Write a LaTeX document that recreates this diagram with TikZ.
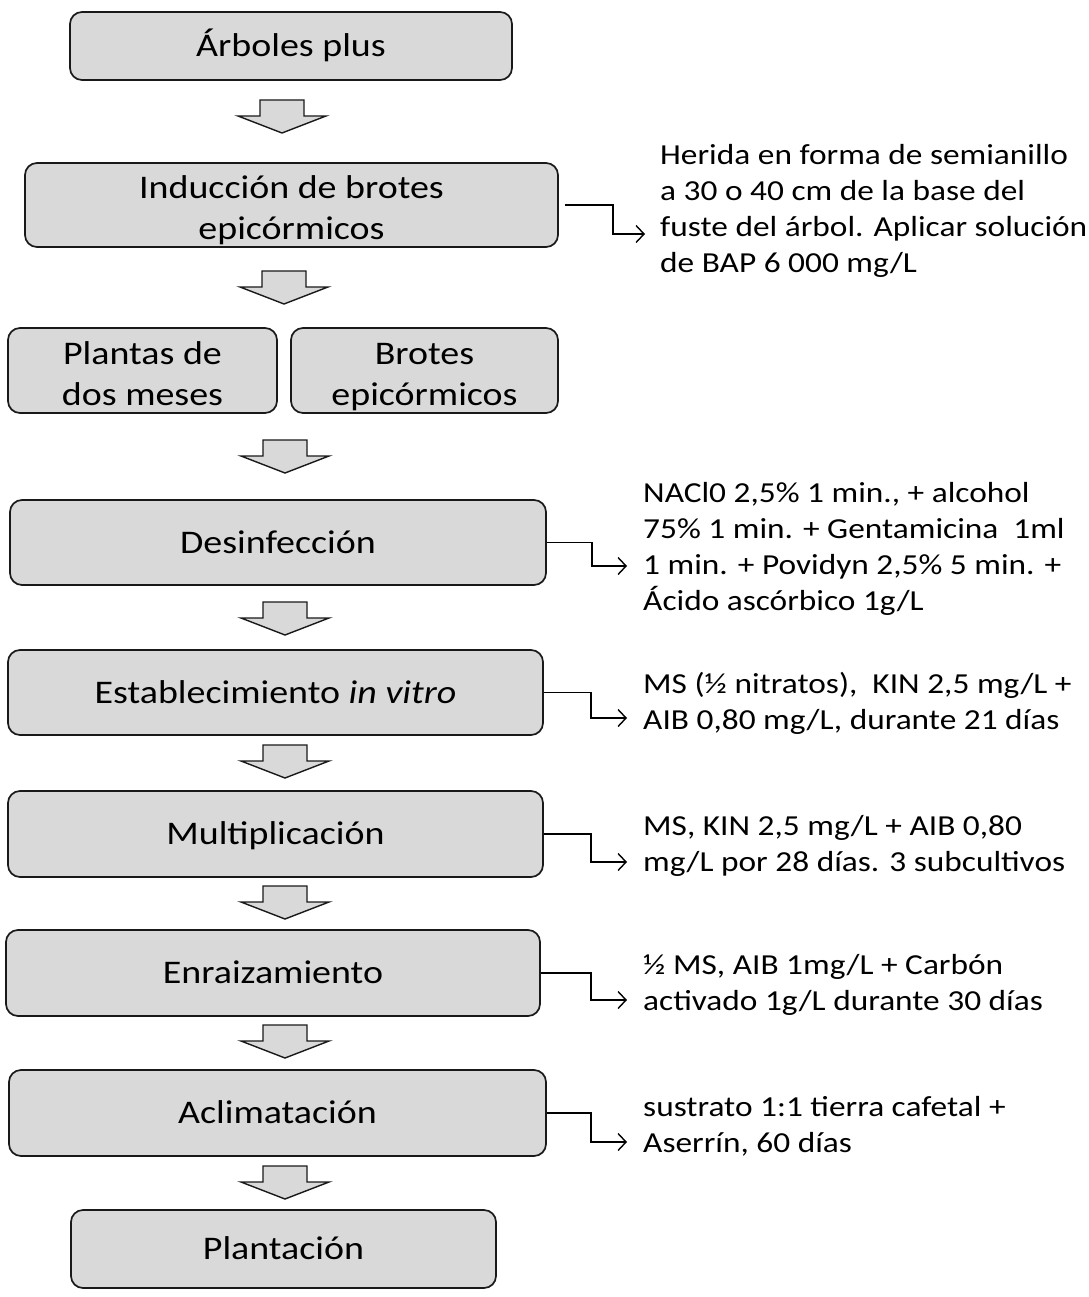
\documentclass[tikz,border=0pt]{standalone}
\usepackage{fontspec}
\setmainfont{Carlito}[FakeStretch=1.15]
\usetikzlibrary{arrows.meta}
\definecolor{boxgray}{RGB}{217,217,217}
\newcommand\etapastrut{\rule[-6pt]{0pt}{33pt}}
\newcommand\altostrut{\rule{0pt}{35pt}}

\begin{document}
\begin{tikzpicture}[x=1pt,y=-1pt,
  stage/.style={draw=black!90, line width=1.7pt, fill=boxgray, rounded corners=12pt,
    align=center, inner sep=0pt, font=\fontsize{33}{41}\selectfont,
    execute at begin node=\etapastrut, execute at end node=\etapastrut},
  note/.style={anchor=west, align=left, inner sep=0pt, font=\fontsize{29}{36}\selectfont},
  elbow/.style={draw=black, line width=1.4pt, -{Straight Barb[length=8pt,width=17pt]}},
  blockarrow/.style={draw=black!90, line width=1.4pt, fill=boxgray, line join=miter},
  flecha/.pic={\draw[blockarrow] (-22,0) -- (22,0) -- (22,16) -- (44,16) -- (0,33)
    -- (-44,16) -- (-22,16) -- cycle;}]
\useasboundingbox (0,0) rectangle (1088,1297);
% etapas
\node[stage, minimum width=442pt, minimum height=68pt] (arb) at (291,46) {Árboles plus};
\node[stage, minimum width=533pt, minimum height=84pt] (ind) at (291.5,205) {\altostrut Inducción de brotes\\epicórmicos};
\node[stage, minimum width=269pt, minimum height=85pt] (pla) at (142.5,370.5) {\altostrut Plantas de\\dos meses};
\node[stage, minimum width=267pt, minimum height=85pt] (bro) at (424.5,370.5) {\altostrut Brotes\\epicórmicos};
\node[stage, minimum width=536pt, minimum height=85pt] (des) at (278,542.5) {Desinfección};
\node[stage, minimum width=535pt, minimum height=85pt] (est) at (275.5,692.5) {Establecimiento \textit{in vitro}};
\node[stage, minimum width=535pt, minimum height=86pt] (mul) at (275.5,834) {Multiplicación};
\node[stage, minimum width=534pt, minimum height=86pt] (enr) at (273,973) {Enraizamiento};
\node[stage, minimum width=537pt, minimum height=86pt] (acl) at (277.5,1113) {Aclimatación};
\node[stage, minimum width=425pt, minimum height=78pt] (pln) at (283.5,1249) {Plantación};
% flechas de bloque
\pic at (282,100) {flecha};
\pic at (284,271) {flecha};
\pic at (285,440) {flecha};
\pic at (285,602) {flecha};
\pic at (285,745) {flecha};
\pic at (285,886) {flecha};
\pic at (285,1025) {flecha};
\pic at (285,1166) {flecha};
% notas
\node[note] (her) at (660,211) {Herida en forma de semianillo\\a 30 o 40 cm de la base del\\fuste del árbol. Aplicar solución\\de BAP 6 000 mg/L};
\node[note] (nac) at (643,549) {NACl0 2,5\% 1 min., + alcohol\\75\% 1 min. + Gentamicina\ \ 1ml\\1 min. + Povidyn 2,5\% 5 min. +\\Ácido ascórbico 1g/L};
\node[note] (msn) at (643,703) {MS (½ nitratos),\ \ KIN 2,5 mg/L +\\AIB 0,80 mg/L, durante 21 días};
\node[note] (msk) at (643,846) {MS, KIN 2,5 mg/L + AIB 0,80\\mg/L por 28 días. 3 subcultivos};
\node[note] (msc) at (643,985) {½ MS, AIB 1mg/L + Carbón\\activado 1g/L durante 30 días};
\node[note] (sus) at (643,1126) {sustrato 1:1 tierra cafetal +\\Aserrín, 60 días};
% conectores
\coordinate (c-ind) at (645,234);
\coordinate (c-des) at (627,566);
\coordinate (c-est) at (627,718);
\coordinate (c-mul) at (627,862);
\coordinate (c-enr) at (627,1000);
\coordinate (c-acl) at (627,1142);
\draw[elbow] ([xshift=6pt]ind.east) -- ++(48,0) |- (c-ind);
\draw[elbow] (des.east) -- ++(45,0) |- (c-des);
\draw[elbow] (est.east) -- ++(47,0) |- (c-est);
\draw[elbow] (mul.east) -- ++(47,0) |- (c-mul);
\draw[elbow] (enr.east) -- ++(50,0) |- (c-enr);
\draw[elbow] (acl.east) -- ++(44,0) |- (c-acl);
\end{tikzpicture}
\end{document}
